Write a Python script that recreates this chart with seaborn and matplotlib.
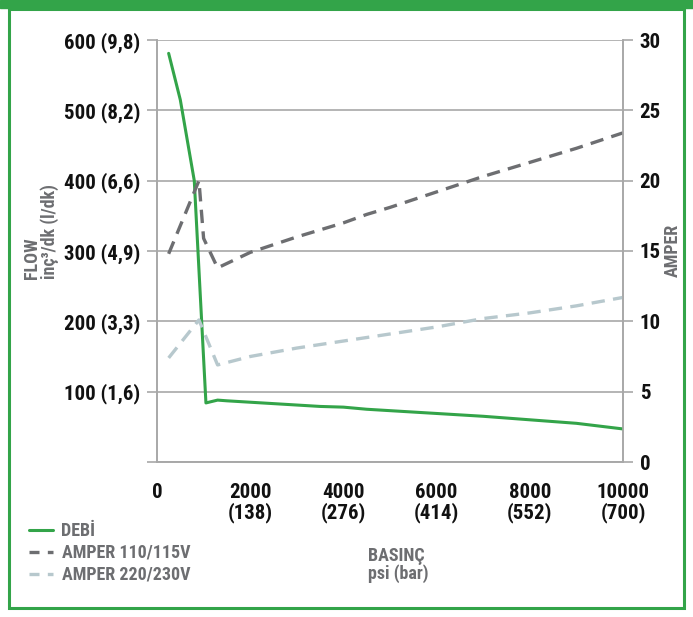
import os
import numpy as np
import pandas as pd
import matplotlib
matplotlib.use('Agg')
import matplotlib.pyplot as plt
import seaborn as sns
from matplotlib import font_manager as fm
from matplotlib.patches import Rectangle
from matplotlib.lines import Line2D

# flow (DEBİ) vs pressure
debi_psi = [250, 500, 800, 1050, 1300, 1500, 2000, 3000, 3500, 4000, 4500, 5000, 6000, 7000, 8000, 9000, 10000]
debi_flow = [581, 515, 400, 84, 88, 87, 85, 81, 79, 78, 75, 73, 69, 65, 60, 55, 47]

# amper 110/115V
a110_psi = [250, 900, 1000, 1300, 2000, 3000, 4000, 4500, 5000, 6000, 7000, 8000, 9000, 10000]
a110_amp = [14.8, 20.0, 15.9, 13.8, 14.9, 16.0, 17.0, 17.6, 18.1, 19.2, 20.3, 21.3, 22.3, 23.4]

# amper 220/230V
a220_psi = [250, 900, 1300, 2000, 3000, 4000, 5000, 6000, 7000, 8000, 9000, 10000]
a220_amp = [7.4, 10.1, 6.9, 7.5, 8.1, 8.6, 9.1, 9.6, 10.2, 10.6, 11.1, 11.7]

x_ticks = [0, 2000, 4000, 6000, 8000, 10000]
x_labels = ['0', '2000\n(138)', '4000\n(276)', '6000\n(414)', '8000\n(552)', '10000\n(700)']
y_ticks = [0, 100, 200, 300, 400, 500, 600]
y_labels = ['', '100 (1,6)', '200 (3,3)', '300 (4,9)', '400 (6,6)', '500 (8,2)', '600 (9,8)']
amp_ticks = [0, 5, 10, 15, 20, 25, 30]

sns.set_style('white')

# look for a narrow / condensed bold face, the reference uses one
def pick_narrow_font():
    prefs = ['liberationsansnarrow-bold.', 'robotocondensed-bold.', 'notosans-condensedbold.',
             'notosans-extracondensedbold.', 'opensans-condensedbold.', 'dejavusanscondensed-bold.']
    files = {os.path.basename(f).lower(): f for f in fm.findSystemFonts()}
    for p in prefs:
        for name, path in files.items():
            if name.startswith(p):
                return path
    return None

narrow = pick_narrow_font()
if narrow:
    fm.fontManager.addfont(narrow)
    entry = fm.ttfFontProperty(fm.get_font(narrow))
    plt.rcParams['font.family'] = [entry.name, 'DejaVu Sans']
    plt.rcParams['font.stretch'] = entry.stretch
    WEIGHT = entry.weight
else:
    plt.rcParams['font.family'] = ['DejaVu Sans']
    WEIGHT = 'bold'
plt.rcParams['font.weight'] = WEIGHT
plt.rcParams['axes.labelweight'] = WEIGHT

GREEN = '#33a449'
DARK = '#6d6e71'
LIGHT = '#b7c8cd'
GRID = '#a8a8a8'
LABEL = '#6d6e71'
FS = 15
LFS = 13

fig = plt.figure(figsize=(6.93, 6.17), dpi=100)
ax = fig.add_axes([157/693, 1-462/617, (623-157)/693, (462-40)/617])
ax2 = ax.twinx()

df_debi = pd.DataFrame({'psi': debi_psi, 'flow': debi_flow})
df_110 = pd.DataFrame({'psi': a110_psi, 'amp': a110_amp})
df_220 = pd.DataFrame({'psi': a220_psi, 'amp': a220_amp})

sns.lineplot(data=df_debi, x='psi', y='flow', ax=ax, color=GREEN, lw=2.2, sort=False, zorder=5)
sns.lineplot(data=df_110, x='psi', y='amp', ax=ax2, color=DARK, lw=2.4, sort=False)
sns.lineplot(data=df_220, x='psi', y='amp', ax=ax2, color=LIGHT, lw=2.4, sort=False)
for l in ax2.lines:
    l.set_dashes([4, 2.5])

ax.set_xlim(0, 10000)
ax.set_ylim(0, 600)
ax2.set_ylim(0, 30)
ax.set_xticks(x_ticks)
ax.set_xticks(np.arange(1000, 10000, 2000), minor=True)
ax.set_xticklabels(x_labels, fontsize=FS, color='#111111', linespacing=1.05)
ax.set_yticks(y_ticks)
ax.set_yticklabels(y_labels, fontsize=FS, color='#111111')
ax2.set_yticks(amp_ticks)
ax2.set_yticklabels([str(t) for t in amp_ticks], fontsize=FS, color='#111111')

ax.grid(axis='y', color=GRID, lw=1.2)
ax.set_axisbelow(True)
for a in (ax, ax2):
    for s in a.spines.values():
        s.set_color(GRID)
        s.set_linewidth(1.2)
    a.spines['top'].set_visible(False)
ax.tick_params(axis='y', direction='out', length=7, width=1.2, color=GRID, pad=5)
ax.tick_params(axis='x', which='both', direction='out', length=8, width=1.2, color=GRID, pad=7)
ax2.tick_params(axis='y', direction='out', length=7, width=1.2, color=GRID, pad=5)

ax.set_xlabel('')
ax.set_ylabel('FLOW\ninç³/dk (l/dk)', fontsize=LFS, color=LABEL, linespacing=0.95,
              va='center', ha='center', multialignment='left')
ax.yaxis.set_label_coords(-0.249, 0.545)
ax2.set_ylabel('AMPER', fontsize=LFS, color=LABEL, va='center', ha='center', rotation=90)
ax2.yaxis.set_label_coords(1.107, 0.502)

fig.text(368/693, 1-565/617, 'BASINÇ\npsi (bar)', ha='left', va='center', fontsize=LFS,
         color=LABEL, linespacing=0.92)

handles = [Line2D([], [], color=GREEN, lw=2.2),
           Line2D([], [], color=DARK, lw=2.4, dashes=[3, 2.5]),
           Line2D([], [], color=LIGHT, lw=2.4, dashes=[3, 2.5])]
leg = fig.legend(handles, ['DEBİ', 'AMPER 110/115V', 'AMPER 220/230V'],
                 loc='upper left', bbox_to_anchor=(29/693, 1-522/617), frameon=False,
                 handlelength=1.35, handletextpad=0.45, labelspacing=0.22,
                 prop={'size': LFS}, borderaxespad=0, borderpad=0)
for t in leg.get_texts():
    t.set_color(LABEL)

# green frame
fig.patches.append(Rectangle((0, 1-8/617), 1, 8/617, transform=fig.transFigure,
                             color=GREEN, zorder=0))
fig.patches.append(Rectangle((9/693, 9/617), (684-9)/693, (617-9-9)/617, transform=fig.transFigure,
                             fill=False, edgecolor=GREEN, lw=2.2, zorder=0))

fig.savefig('out.png', dpi=100)
